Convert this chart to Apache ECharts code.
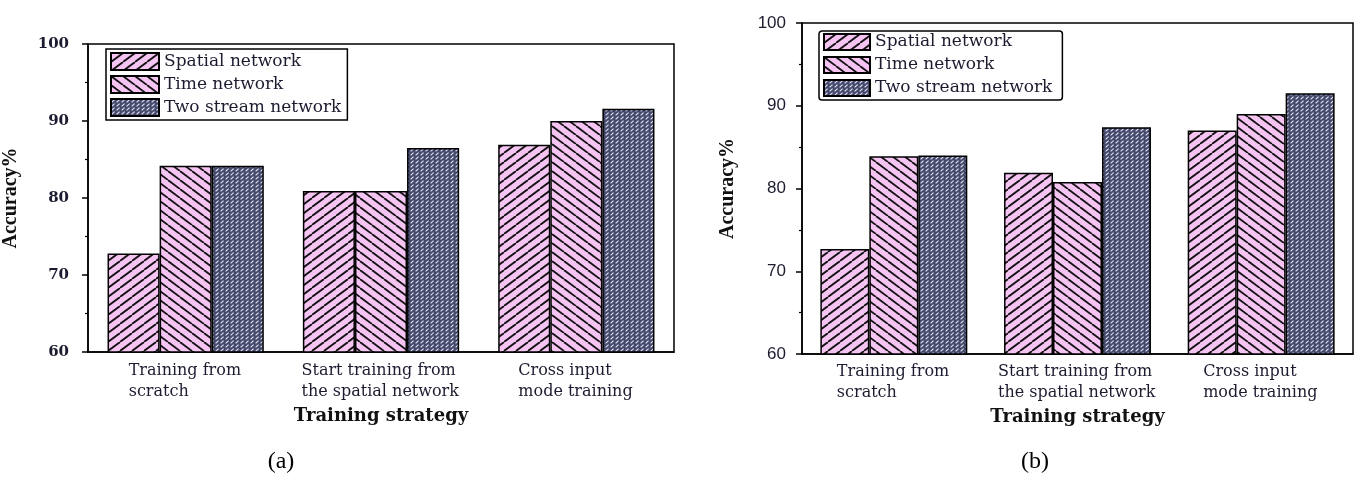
<!DOCTYPE html>
<html>
<head>
<meta charset="utf-8">
<script src="https://cdn.jsdelivr.net/npm/echarts@6/dist/echarts.min.js"></script>
<style>html,body{margin:0;padding:0;background:#fff;}#c{width:1358px;height:477px;}</style>
</head>
<body>
<div id="c"></div>
<script>
// ---- data ----
const categories = ['Training from\nscratch', 'Start training from\nthe spatial network', 'Cross input\nmode training'];
const seriesNames = ['Spatial network', 'Time network', 'Two stream network'];
const spatialA = [72.8, 80.9, 86.9];
const timeA = [84.2, 80.9, 90.0];
const twoStreamA = [84.2, 86.5, 91.6];
const spatialB = [72.7, 81.9, 87.0];
const timeB = [83.9, 80.8, 89.0];
const twoStreamB = [84.0, 87.4, 91.5];
const yMin = 60, yMax = 100, yStep = 10;
const yAxisTitle = 'Accuracy%';
const xAxisTitle = 'Training strategy';
const panelLabels = ['(a)', '(b)'];

// ---- patterns ----
function hatch(bg, fg, w, h, lw, dir) {
  const c = document.createElement('canvas'); c.width = w; c.height = h;
  const g = c.getContext('2d');
  g.fillStyle = bg; g.fillRect(0, 0, w, h);
  g.strokeStyle = fg; g.lineWidth = lw;
  for (let k = -1; k <= 1; k++) {
    g.beginPath();
    if (dir > 0) { g.moveTo(k * w, h); g.lineTo(k * w + w, 0); }
    else { g.moveTo(k * w, 0); g.lineTo(k * w + w, h); }
    g.stroke();
  }
  return c;
}
function dashes() {
  const w = 5, h = 4;
  const c = document.createElement('canvas'); c.width = w; c.height = h;
  const g = c.getContext('2d');
  g.fillStyle = '#44486a'; g.fillRect(0, 0, w, h);
  g.strokeStyle = '#dde1f4'; g.lineWidth = 1.2;
  g.beginPath(); g.moveTo(0.6, 3.4); g.lineTo(3.6, 0.6); g.stroke();
  return c;
}
const PINK = '#f6c4f2';
const patterns = [
  {image: hatch(PINK, '#111', 12, 9, 1.8, 1), repeat: 'repeat'},
  {image: hatch(PINK, '#111', 12, 9, 1.8, -1), repeat: 'repeat'},
  {image: dashes(), repeat: 'repeat'}
];

// left-aligned multi-line category labels: measure the widest line of each label
const LABEL_FONT = '16px "DejaVu Serif"';
const mctx = document.createElement('canvas').getContext('2d');
mctx.font = LABEL_FONT;
const richStyles = {};
categories.forEach(function (c, i) {
  const w = Math.max.apply(null, c.split('\n').map(function (l) { return mctx.measureText(l).width; }));
  richStyles['c' + i] = {width: Math.ceil(w) + 1, align: 'left', fontFamily: 'DejaVu Serif', fontSize: 16, lineHeight: 21, color: '#1c1c30'};
});
function catFormatter(value, index) {
  return value.split('\n').map(function (l) { return '{c' + index + '|' + l + '}'; }).join('\n');
}

const chart = echarts.init(document.getElementById('c'), null, {renderer: 'canvas'});
const txt = '#1c1c30';
const grids = [
  {left: 86, top: 44, width: 588, height: 308, show: true, borderColor: '#000', borderWidth: 1.5, backgroundColor: 'transparent'},
  {left: 802, top: 23, width: 551, height: 331, show: true, borderColor: '#000', borderWidth: 1.5, backgroundColor: 'transparent'}
];
function xAxes(gi, gap, margin) {
  return [
    {type: 'category', gridIndex: gi, data: categories,
     axisLine: {lineStyle: {color: '#000', width: 1.5}},
     axisTick: {alignWithLabel: true, length: 6, lineStyle: {color: '#000', width: 1.5}},
     axisLabel: {color: txt, fontFamily: 'DejaVu Serif', fontSize: 16, lineHeight: 21, margin: margin, interval: 0,
                 formatter: catFormatter, rich: richStyles},
     name: xAxisTitle, nameLocation: 'middle', nameGap: gap,
     nameTextStyle: {fontFamily: 'DejaVu Serif', fontWeight: 'bold', fontSize: 18, color: '#111'}},
    {type: 'category', gridIndex: gi, data: categories, position: 'bottom',
     axisLine: {show: false}, axisLabel: {show: false},
     axisTick: {length: 3, lineStyle: {color: '#000', width: 1.2}}}
  ];
}
function yAxis(gi, font, size, bold, margin, nameGap) {
  return {type: 'value', gridIndex: gi, min: yMin, max: yMax, interval: yStep,
    splitLine: {show: false},
    axisLine: {show: true, lineStyle: {color: '#000', width: 1.5}},
    axisTick: {show: true, length: 6, lineStyle: {color: '#000', width: 1.5}},
    minorTick: {show: true, splitNumber: 2, length: 3, lineStyle: {color: '#000', width: 1.2}},
    axisLabel: {color: txt, fontFamily: font, fontSize: size, fontWeight: bold ? 'bold' : 'normal', margin: margin},
    name: yAxisTitle, nameLocation: 'middle', nameGap: nameGap, nameRotate: 90,
    nameTextStyle: {fontFamily: 'Liberation Serif', fontWeight: 'bold', fontSize: 20, color: '#111'}};
}
function barSeries(gi, values, idx) {
  return {type: 'bar', name: seriesNames[idx], xAxisIndex: gi * 2, yAxisIndex: gi, data: values,
    barGap: '0%', barCategoryGap: '20%',
    itemStyle: {color: patterns[idx], borderColor: '#000', borderWidth: 1.5}};
}
const option = {
  animation: false,
  backgroundColor: '#fff',
  grid: grids,
  xAxis: xAxes(0, 53, 8).concat(xAxes(1, 53, 7)),
  yAxis: [yAxis(0, 'DejaVu Serif', 15, true, 19, 67), yAxis(1, 'Liberation Sans', 17, false, 16, 64)],
  legend: [
    {data: seriesNames, orient: 'vertical', left: 106, top: 49, icon: 'rect',
     itemWidth: 48, itemHeight: 17, itemGap: 4, padding: [3, 6, 3, 4],
     borderColor: '#000', borderWidth: 1.5, borderRadius: 0, selectedMode: false,
     textStyle: {fontFamily: 'DejaVu Serif', fontSize: 17, color: txt}},
    {data: seriesNames, orient: 'vertical', left: 819, top: 31, icon: 'rect',
     itemWidth: 46, itemHeight: 16, itemGap: 5, padding: [2, 10, 3, 4],
     borderColor: '#000', borderWidth: 1.5, borderRadius: 3, selectedMode: false,
     textStyle: {fontFamily: 'DejaVu Serif', fontSize: 17, color: txt}}
  ],
  graphic: [
    {type: 'text', x: 281, y: 462, style: {text: panelLabels[0], font: '24px "Liberation Serif"', fill: '#000', textAlign: 'center', textVerticalAlign: 'middle'}},
    {type: 'text', x: 1035, y: 462, style: {text: panelLabels[1], font: '24px "Liberation Serif"', fill: '#000', textAlign: 'center', textVerticalAlign: 'middle'}}
  ],
  series: [
    barSeries(0, spatialA, 0), barSeries(0, timeA, 1), barSeries(0, twoStreamA, 2),
    barSeries(1, spatialB, 0), barSeries(1, timeB, 1), barSeries(1, twoStreamB, 2)
  ]
};
chart.setOption(option);
</script>
</body>
</html>
